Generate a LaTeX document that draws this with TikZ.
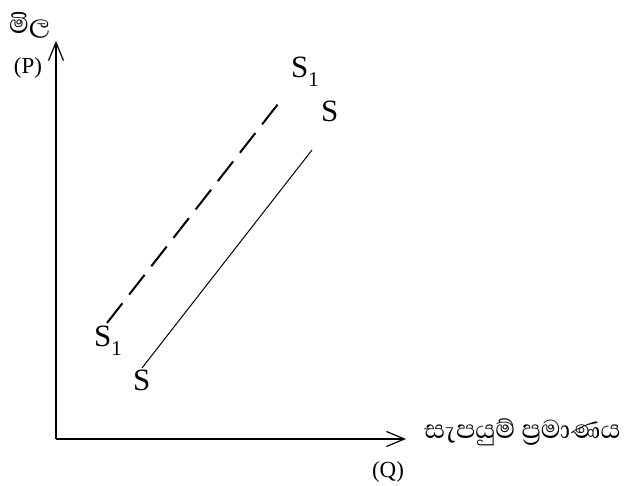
\documentclass[tikz,border=0pt]{standalone}
\usepackage{fontspec}
\setmainfont{Liberation Serif}
\newfontfamily\sinhala[Script=Sinhala]{Abhaya Libre}
\usetikzlibrary{arrows.meta}
\tikzset{
  axis/.style={line width=1.2pt,-{Straight Barb[length=18pt,width=15pt,line width=1.2pt]}},
  supply/.style={line width=1pt},
  newsupply/.style={line width=2pt,dash pattern=on 25pt off 11pt},
  lbl/.style={inner sep=0pt,anchor=base west,font=\fontsize{31}{31}\selectfont},
  sintext/.style={inner sep=0pt,anchor=base west,font=\sinhala\fontsize{33}{33}\selectfont},
  paren/.style={inner sep=0pt,font=\fontsize{23}{23}\selectfont}
}
\newcommand{\subone}{\raisebox{-9pt}{\fontsize{21}{21}\selectfont 1}}
\begin{document}
\begin{tikzpicture}[x=1pt,y=-1pt]
\useasboundingbox (0,0) rectangle (632,486);
\coordinate (O) at (56,439);
\coordinate (Ytop) at (56,41);
\coordinate (Xend) at (406,439);
\draw[axis] (O) -- (Ytop);
\draw[axis] (O) -- (Xend);
\coordinate (Sa) at (142,368);
\coordinate (Sb) at (312,150);
\coordinate (S1a) at (107,323);
\coordinate (S1b) at (278,104);
\draw[supply] (Sa) -- (Sb);
\draw[newsupply] (S1a) -- (S1b);
\node[lbl] (Stop) at (321,122) {S};
\node[lbl] (Sbot) at (133,390) {S};
\node[lbl] (S1top) at (291,78) {S\subone};
\node[lbl] (S1bot) at (94,347) {S\subone};
\node[sintext] (price) at (9,34) {මිල};
\node[paren] (P) at (28,68) {(P)};
\node[sintext] (qty) at (424,438) {සැපයුම් ප්‍රමාණය};
\node[paren] (Q) at (388,472) {(Q)};
\end{tikzpicture}
\end{document}
